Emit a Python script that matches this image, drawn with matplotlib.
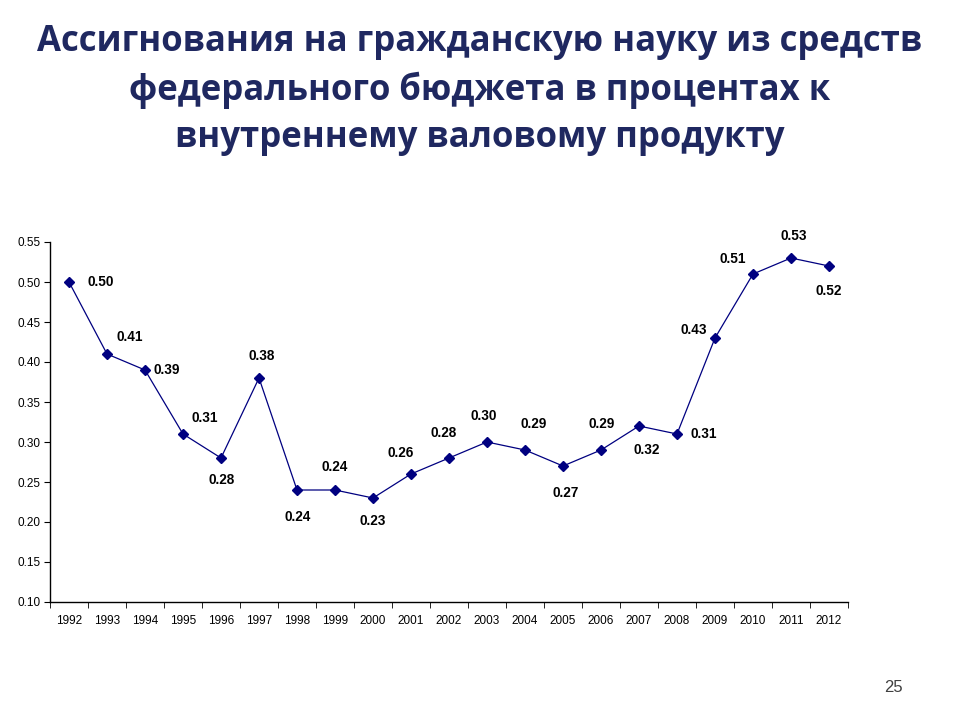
import matplotlib
matplotlib.use("Agg")
import matplotlib.pyplot as plt

years = [str(y) for y in range(1992, 2013)]
values = [0.50, 0.41, 0.39, 0.31, 0.28, 0.38, 0.24, 0.24, 0.23, 0.26, 0.28,
          0.30, 0.29, 0.27, 0.29, 0.32, 0.31, 0.43, 0.51, 0.53, 0.52]
yticks = [0.10, 0.15, 0.20, 0.25, 0.30, 0.35, 0.40, 0.45, 0.50, 0.55]
title = "Ассигнования на гражданскую науку из средств\nфедерального бюджета в процентах к\nвнутреннему валовому продукту"
page_number = "25"

# label offsets in pixels (dx, dy)
label_offsets = [(32, 0), (23, 17), (22, 0), (22, 16), (1, -22), (3, 22),
                 (1, -27), (0, 23), (0, -23), (-10, 21), (-5, 25), (-3, 26),
                 (9, 26), (3, -27), (1, 26), (8, -24), (27, 0), (-21, 8),
                 (-20, 15), (3, 22), (0, -25)]

fig = plt.figure(figsize=(9.6, 7.2), dpi=100)
ax = fig.add_axes([50/960, 1-602/720, 798/960, 360/720])

x = list(range(len(years)))
color = "#000080"
ax.plot(x, values, color=color, lw=0.9, marker="D", markersize=5.5,
        markerfacecolor=color, markeredgecolor=color)
for xi, v, (dx, dy) in zip(x, values, label_offsets):
    ax.annotate(f"{v:.2f}", (xi, v), xytext=(dx, dy), textcoords="offset pixels",
                ha="center", va="center", fontsize=9.8, fontweight="bold",
                family="Liberation Sans", color="black")

ax.set_xlim(-0.5, len(years) - 0.5)
ax.set_ylim(0.10, 0.55)
ax.set_yticks(yticks)
ax.set_yticklabels([f"{t:.2f}" for t in yticks], family="Liberation Sans", fontsize=8.5)
ax.set_xticks(x)
ax.set_xticklabels(years, family="Liberation Sans", fontsize=8.5)
ax.set_xticks([i - 0.5 for i in range(len(years) + 1)], minor=True)
ax.tick_params(axis="x", which="major", length=0, pad=9)
ax.tick_params(axis="x", which="minor", length=4, direction="out")
ax.tick_params(axis="y", length=4, direction="out", pad=3)
for s in ["top", "right"]:
    ax.spines[s].set_visible(False)
for s in ["left", "bottom"]:
    ax.spines[s].set_linewidth(1.0)

fig.text(0.5, 1-90/720, title, ha="center", va="center", fontsize=25,
         fontweight="bold", family="Open Sans", color="#1F2860", linespacing=1.4)
fig.text(893/960, 1-687/720, page_number, ha="center", va="center",
         fontsize=12, family="Liberation Sans", color="#404040")

fig.savefig("out.png", dpi=100)
